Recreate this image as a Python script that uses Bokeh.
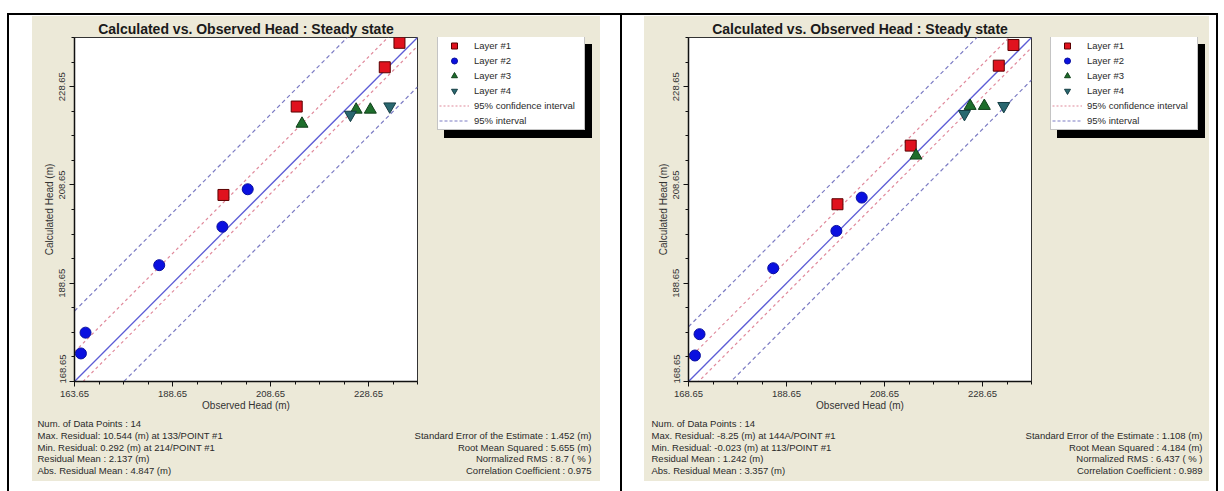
import math
from bokeh.plotting import figure
from bokeh.models import Div, Label, Legend, LegendItem, FixedTicker, Range1d, LinearAxis
from bokeh.layouts import row, column
from bokeh.embed import file_html
from bokeh.resources import INLINE

FONT = "Liberation Sans"
BEIGE = "#ece9d8"

# ---------------- data ----------------
title_text = "Calculated vs. Observed Head : Steady state"
x_axis_label = "Observed Head (m)"
y_axis_label = "Calculated Head (m)"
axis_start = 168.65
axis_end = 238.65
major_ticks = [168.65, 188.65, 208.65, 228.65]
minor_step = 5.0

layer_names = ["Layer #1", "Layer #2", "Layer #3", "Layer #4"]
conf_name = "95% confidence interval"
pred_name = "95% interval"

# observed heads (same wells in both runs)
observed_layer1 = [234.97, 231.97, 214.0, 199.05]
observed_layer2 = [204.0, 198.83, 185.94, 170.9, 169.96]
observed_layer3 = [215.08, 226.13, 229.02]
observed_layer4 = [224.97, 232.99]

# run A (left)
calc_a_layer1 = [237.57, 232.59, 224.6, 206.61]
calc_a_layer2 = [207.77, 200.14, 192.32, 178.59, 174.36]
calc_a_layer3 = [221.1, 223.96, 223.96]
calc_a_layer4 = [222.94, 224.63]
residual_mean_a = 2.137
conf_half_a = 3.9
pred_half_a = 12.2
stats_left_a = ["Num. of Data Points : 14",
                "Max. Residual: 10.544 (m) at 133/POINT #1",
                "Min. Residual: 0.292 (m) at 214/POINT #1",
                "Residual Mean : 2.137 (m)",
                "Abs. Residual Mean : 4.847 (m)"]
stats_right_a = ["Standard Error of the Estimate : 1.452 (m)",
                 "Root Mean Squared : 5.655 (m)",
                 "Normalized RMS : 8.7 ( % )",
                 "Correlation Coefficient : 0.975"]
first_x_label_a = "163.65"
first_y_label_a = "168.65"

# run B (right)
calc_b_layer1 = [237.12, 232.92, 216.65, 204.72]
calc_b_layer2 = [206.07, 199.29, 191.7, 178.28, 173.94]
calc_b_layer3 = [214.62, 224.72, 224.72]
calc_b_layer4 = [223.09, 224.72]
residual_mean_b = 1.242
conf_half_b = 3.3
pred_half_b = 9.9
stats_left_b = ["Num. of Data Points : 14",
                "Max. Residual: -8.25 (m) at 144A/POINT #1",
                "Min. Residual: -0.023 (m) at 113/POINT #1",
                "Residual Mean : 1.242 (m)",
                "Abs. Residual Mean : 3.357 (m)"]
stats_right_b = ["Standard Error of the Estimate : 1.108 (m)",
                 "Root Mean Squared : 4.184 (m)",
                 "Normalized RMS : 6.437 ( % )",
                 "Correlation Coefficient : 0.989"]
first_x_label_b = "168.65"
first_y_label_b = "168.65"

observed = [observed_layer1, observed_layer2, observed_layer3, observed_layer4]

# ---------------- styles / layout constants ----------------
marker_styles = [
    dict(marker="square", size=11, fill_color="#e0121e", line_color="#5a0000"),
    dict(marker="circle", size=11, fill_color="#0a10e0", line_color="#0a10a0"),
    dict(marker="triangle", size=12, fill_color="#1e6e2c", line_color="#10401a"),
    dict(marker="inverted_triangle", size=12, fill_color="#2a6870", line_color="#163e44"),
]
ONE_TO_ONE_COLOR = "#5c5cd6"
CONF_COLOR = "#e08a9c"
PRED_COLOR = "#7c7cc4"
TEXT_COLOR = "#2a2a2a"
LABEL_COLOR = "#333333"

FRAME_W = 343
FRAME_H = 344
TOP_BORDER = 21
BOTTOM_BORDER = 35
MAIN_H = TOP_BORDER + FRAME_H + BOTTOM_BORDER
STATS_H = 65
FIRST_Y_LABEL_SHIFT_PX = 12.5          # bottom y label sits above its tick
LEGEND_H = 92
LEGEND_TOP_GAP = 1                     # px below the plot frame top
STATS_LEFT_Y = [58, 46, 34, 23, 11]    # px from stats strip bottom
STATS_RIGHT_Y = [46, 34, 23, 11]
BEIGE_BOX = {"background-color": BEIGE}


def style_text_axis(ax):
    ax.major_label_text_font = FONT
    ax.major_label_text_font_size = "9.5px"
    ax.major_label_text_color = LABEL_COLOR
    ax.axis_label_text_font = FONT
    ax.axis_label_text_font_size = "10px"
    ax.axis_label_text_font_style = "normal"
    ax.axis_label_text_color = LABEL_COLOR


def style_tick_axis(ax):
    ax.axis_line_color = "#111111"
    ax.axis_line_width = 1.5
    ax.major_tick_line_color = "#111111"
    ax.minor_tick_line_color = "#111111"
    ax.major_tick_out = 5
    ax.major_tick_in = 0
    ax.minor_tick_out = 3
    ax.minor_tick_in = 0


def make_panel(calcs, res_mean, conf_half, pred_half, stats_left, stats_right,
               first_x_label, first_y_label, width, border_left, main_w,
               legend_x, stats_left_x, stats_right_x):
    minor = [axis_start + i * minor_step
             for i in range(int(round((axis_end - axis_start) / minor_step)) + 1)]

    p = figure(width=main_w, height=MAIN_H, output_backend="svg", toolbar_location=None,
               x_range=Range1d(axis_start, axis_end), y_range=Range1d(axis_start, axis_end),
               min_border_left=border_left, min_border_right=main_w - border_left - FRAME_W,
               min_border_top=TOP_BORDER, min_border_bottom=BOTTOM_BORDER,
               y_axis_location=None, title=title_text)
    p.border_fill_color = BEIGE
    p.background_fill_color = "white"
    p.outline_line_color = "#333333"
    p.outline_line_width = 1
    p.xgrid.visible = False
    p.ygrid.visible = False

    p.title.text_font = FONT
    p.title.text_font_size = "14px"
    p.title.text_font_style = "bold"
    p.title.text_color = "#1a1a1a"
    p.title.align = "center"
    p.title.standoff = 2

    # x axis
    xa = p.xaxis[0]
    xa.ticker = FixedTicker(ticks=major_ticks, minor_ticks=minor)
    style_tick_axis(xa)
    style_text_axis(xa)
    xa.major_label_standoff = 4
    xa.axis_label = x_axis_label
    xa.axis_label_standoff = 0
    xa.major_label_overrides = {major_ticks[0]: first_x_label}

    # y axis: tick marks only
    ya_ticks = LinearAxis(ticker=FixedTicker(ticks=major_ticks, minor_ticks=minor))
    style_tick_axis(ya_ticks)
    ya_ticks.major_label_text_font_size = "0px"
    ya_ticks.major_label_standoff = 0
    ya_ticks.major_label_overrides = {t: "" for t in major_ticks}
    p.add_layout(ya_ticks, "left")

    # y axis: labels only (bottom label kept inside the axis extent)
    shift = FIRST_Y_LABEL_SHIFT_PX * (axis_end - axis_start) / FRAME_H
    label_ticks = [major_ticks[0] + shift] + major_ticks[1:]
    ya_labels = LinearAxis(ticker=FixedTicker(ticks=label_ticks, minor_ticks=[]))
    style_text_axis(ya_labels)
    ya_labels.axis_line_color = None
    ya_labels.major_tick_line_color = None
    ya_labels.minor_tick_line_color = None
    ya_labels.major_tick_out = 0
    ya_labels.major_tick_in = 0
    ya_labels.minor_tick_out = 0
    ya_labels.minor_tick_in = 0
    ya_labels.major_label_standoff = 4
    ya_labels.major_label_orientation = "vertical"
    ya_labels.major_label_overrides = {label_ticks[0]: first_y_label}
    ya_labels.axis_label = y_axis_label
    ya_labels.axis_label_standoff = 2
    p.add_layout(ya_labels, "left")

    xs = [axis_start, axis_end]
    p.line(xs, [v + res_mean + pred_half for v in xs], line_color=PRED_COLOR,
           line_dash="4 3", line_width=1.2)
    p.line(xs, [v + res_mean - pred_half for v in xs], line_color=PRED_COLOR,
           line_dash="4 3", line_width=1.2)
    p.line(xs, [v + res_mean + conf_half for v in xs], line_color=CONF_COLOR,
           line_dash="3 3", line_width=1.2)
    p.line(xs, [v + res_mean - conf_half for v in xs], line_color=CONF_COLOR,
           line_dash="3 3", line_width=1.2)
    p.line(xs, xs, line_color=ONE_TO_ONE_COLOR, line_width=1.3)

    for obs, calc, st in zip(observed, calcs, marker_styles):
        p.scatter(obs, calc, line_width=1, **st)

    # ---- legend strip (to the right of the plot) ----
    # key renderers carry the layer data but sit outside this strip's unit range,
    # so only their legend swatches are visible
    leg_w = width - main_w
    lf = figure(width=leg_w, height=MAIN_H, output_backend="svg", toolbar_location=None,
                x_range=Range1d(0, 1), y_range=Range1d(0, 1),
                x_axis_location=None, y_axis_location=None, min_border=0)
    lf.border_fill_color = BEIGE
    lf.background_fill_color = BEIGE
    lf.outline_line_color = None
    lf.xgrid.visible = False
    lf.ygrid.visible = False

    key_markers = [lf.scatter(obs, calc, line_width=1, **st)
                   for obs, calc, st in zip(observed, calcs, marker_styles)]
    key_conf = lf.line(xs, [v + res_mean + conf_half for v in xs], line_color=CONF_COLOR,
                       line_dash="2 2", line_width=1.2)
    key_pred = lf.line(xs, [v + res_mean + pred_half for v in xs], line_color=PRED_COLOR,
                       line_dash="3 2", line_width=1.2)
    key_shadow = lf.line([], [], line_color="black")

    legend_bottom = FRAME_H - LEGEND_TOP_GAP - LEGEND_H
    shadow = Legend(items=[LegendItem(label=" ", renderers=[key_shadow])],
                    location=(legend_x + 7, legend_bottom - 8), padding=0, margin=0, spacing=0,
                    glyph_width=1, glyph_height=LEGEND_H, label_width=145, label_height=LEGEND_H,
                    label_standoff=0, background_fill_color="black", background_fill_alpha=1,
                    border_line_color="black", label_text_color="black",
                    label_text_font_size="9px")
    lf.add_layout(shadow, "center")

    items = [LegendItem(label=n, renderers=[r]) for n, r in zip(layer_names, key_markers)]
    items.append(LegendItem(label=conf_name, renderers=[key_conf]))
    items.append(LegendItem(label=pred_name, renderers=[key_pred]))
    legend = Legend(items=items, location=(legend_x, legend_bottom), padding=1, margin=0,
                    spacing=0, glyph_width=30, glyph_height=15, label_height=15,
                    label_width=109, label_standoff=5,
                    background_fill_color="white", background_fill_alpha=1,
                    border_line_color="#8a8a8a", border_line_width=1,
                    label_text_font=FONT, label_text_font_size="9.5px",
                    label_text_color=TEXT_COLOR)
    lf.add_layout(legend, "center")

    # ---- statistics strip (below) ----
    sf = figure(width=width, height=STATS_H, output_backend="svg", toolbar_location=None,
                x_range=Range1d(0, 1), y_range=Range1d(0, 1),
                x_axis_location=None, y_axis_location=None, min_border=0)
    sf.border_fill_color = BEIGE
    sf.background_fill_color = BEIGE
    sf.outline_line_color = None
    sf.xgrid.visible = False
    sf.ygrid.visible = False
    for txt, yy in zip(stats_left, STATS_LEFT_Y):
        sf.add_layout(Label(x=stats_left_x, y=yy, x_units="screen", y_units="screen", text=txt,
                            text_align="left", text_baseline="middle", text_font=FONT,
                            text_font_size="9.5px", text_color=TEXT_COLOR))
    for txt, yy in zip(stats_right, STATS_RIGHT_Y):
        sf.add_layout(Label(x=stats_right_x, y=yy, x_units="screen", y_units="screen", text=txt,
                            text_align="right", text_baseline="middle", text_font=FONT,
                            text_font_size="9.5px", text_color=TEXT_COLOR))

    top = row(p, lf, spacing=0, styles=BEIGE_BOX)
    return column(top, sf, spacing=0, styles=BEIGE_BOX)


panelA = make_panel([calc_a_layer1, calc_a_layer2, calc_a_layer3, calc_a_layer4],
                    residual_mean_a, conf_half_a, pred_half_a, stats_left_a, stats_right_a,
                    first_x_label_a, first_y_label_a, width=568, border_left=42, main_w=398,
                    legend_x=7, stats_left_x=5, stats_right_x=559)
panelB = make_panel([calc_b_layer1, calc_b_layer2, calc_b_layer3, calc_b_layer4],
                    residual_mean_b, conf_half_b, pred_half_b, stats_left_b, stats_right_b,
                    first_x_label_b, first_y_label_b, width=565, border_left=44, main_w=397,
                    legend_x=9, stats_left_x=7, stats_right_x=558)
panelA.margin = (1, 20, 0, 23)
panelB.margin = (1, 7, 0, 22)


def vline():
    return Div(text="", width=2, height=476, margin=0, styles={"background-color": "black"})


top_line = Div(text="", width=1211, height=2, margin=(13, 0, 0, 7),
               styles={"background-color": "black"})
body_row = row(vline(), panelA, vline(), panelB, vline(), spacing=0)
body_row.margin = (0, 0, 0, 7)
layout = column(top_line, body_row, spacing=0)

open("out.html", "w").write(file_html(layout, INLINE))
